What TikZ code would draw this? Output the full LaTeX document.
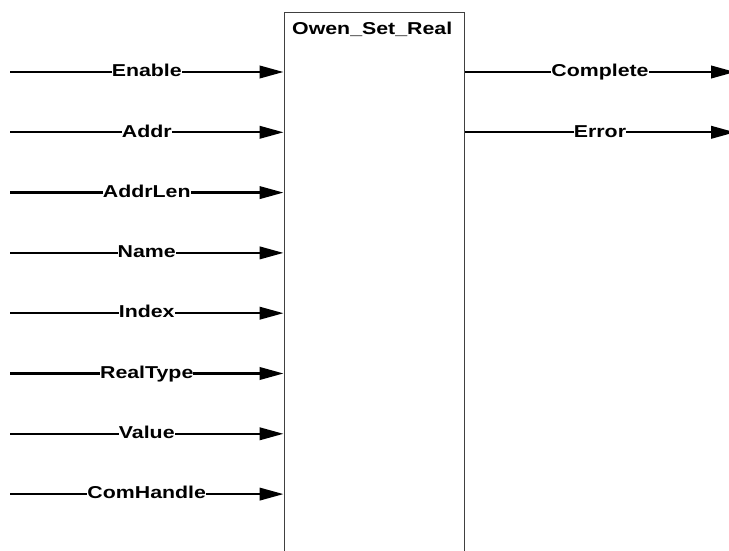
\documentclass[tikz,border=0pt]{standalone}
\usepackage{fontspec}
\setmainfont{Liberation Sans}
\newfontfamily\lblfont{Liberation Sans}[FakeStretch=1.24]
\usetikzlibrary{arrows.meta}
\begin{document}
\begin{tikzpicture}[x=1pt,y=-1pt,
  sig/.style={line width=2.3pt, -{Triangle[length=24pt,width=12.5pt]}},
  txt/.style={font=\lblfont\bfseries\fontsize{17.2}{19}\selectfont, inner sep=0pt},
  lbl/.style={txt, fill=white, anchor=base, yshift=-4.7pt},
  fbox/.style={draw=black!75, line width=1pt, inner sep=0pt, anchor=north west}]
\useasboundingbox (0,0) rectangle (729,551);
\clip (0,0) rectangle (729,551);
\node[fbox, minimum width=180.5pt, minimum height=560pt] (fb) at (283.5,12.5) {};
\node[txt, anchor=base west] (title) at (292,35) {Owen\_Set\_Real};
\foreach \t [count=\i] in {Enable,Addr,AddrLen,Name,Index,RealType,Value,ComHandle} {
  \coordinate (in\i) at (10,{72+60.3*(\i-1)});
  \draw[sig] (in\i) -- (fb.west |- in\i) node[lbl, midway] (li\i) {\t};
}
\foreach \t [count=\i] in {Complete,Error} {
  \coordinate (out\i) at (735,{72+60.3*(\i-1)});
  \draw[sig] (fb.east |- out\i) -- (out\i) node[lbl, midway] (lo\i) {\t};
}
\end{tikzpicture}
\end{document}
